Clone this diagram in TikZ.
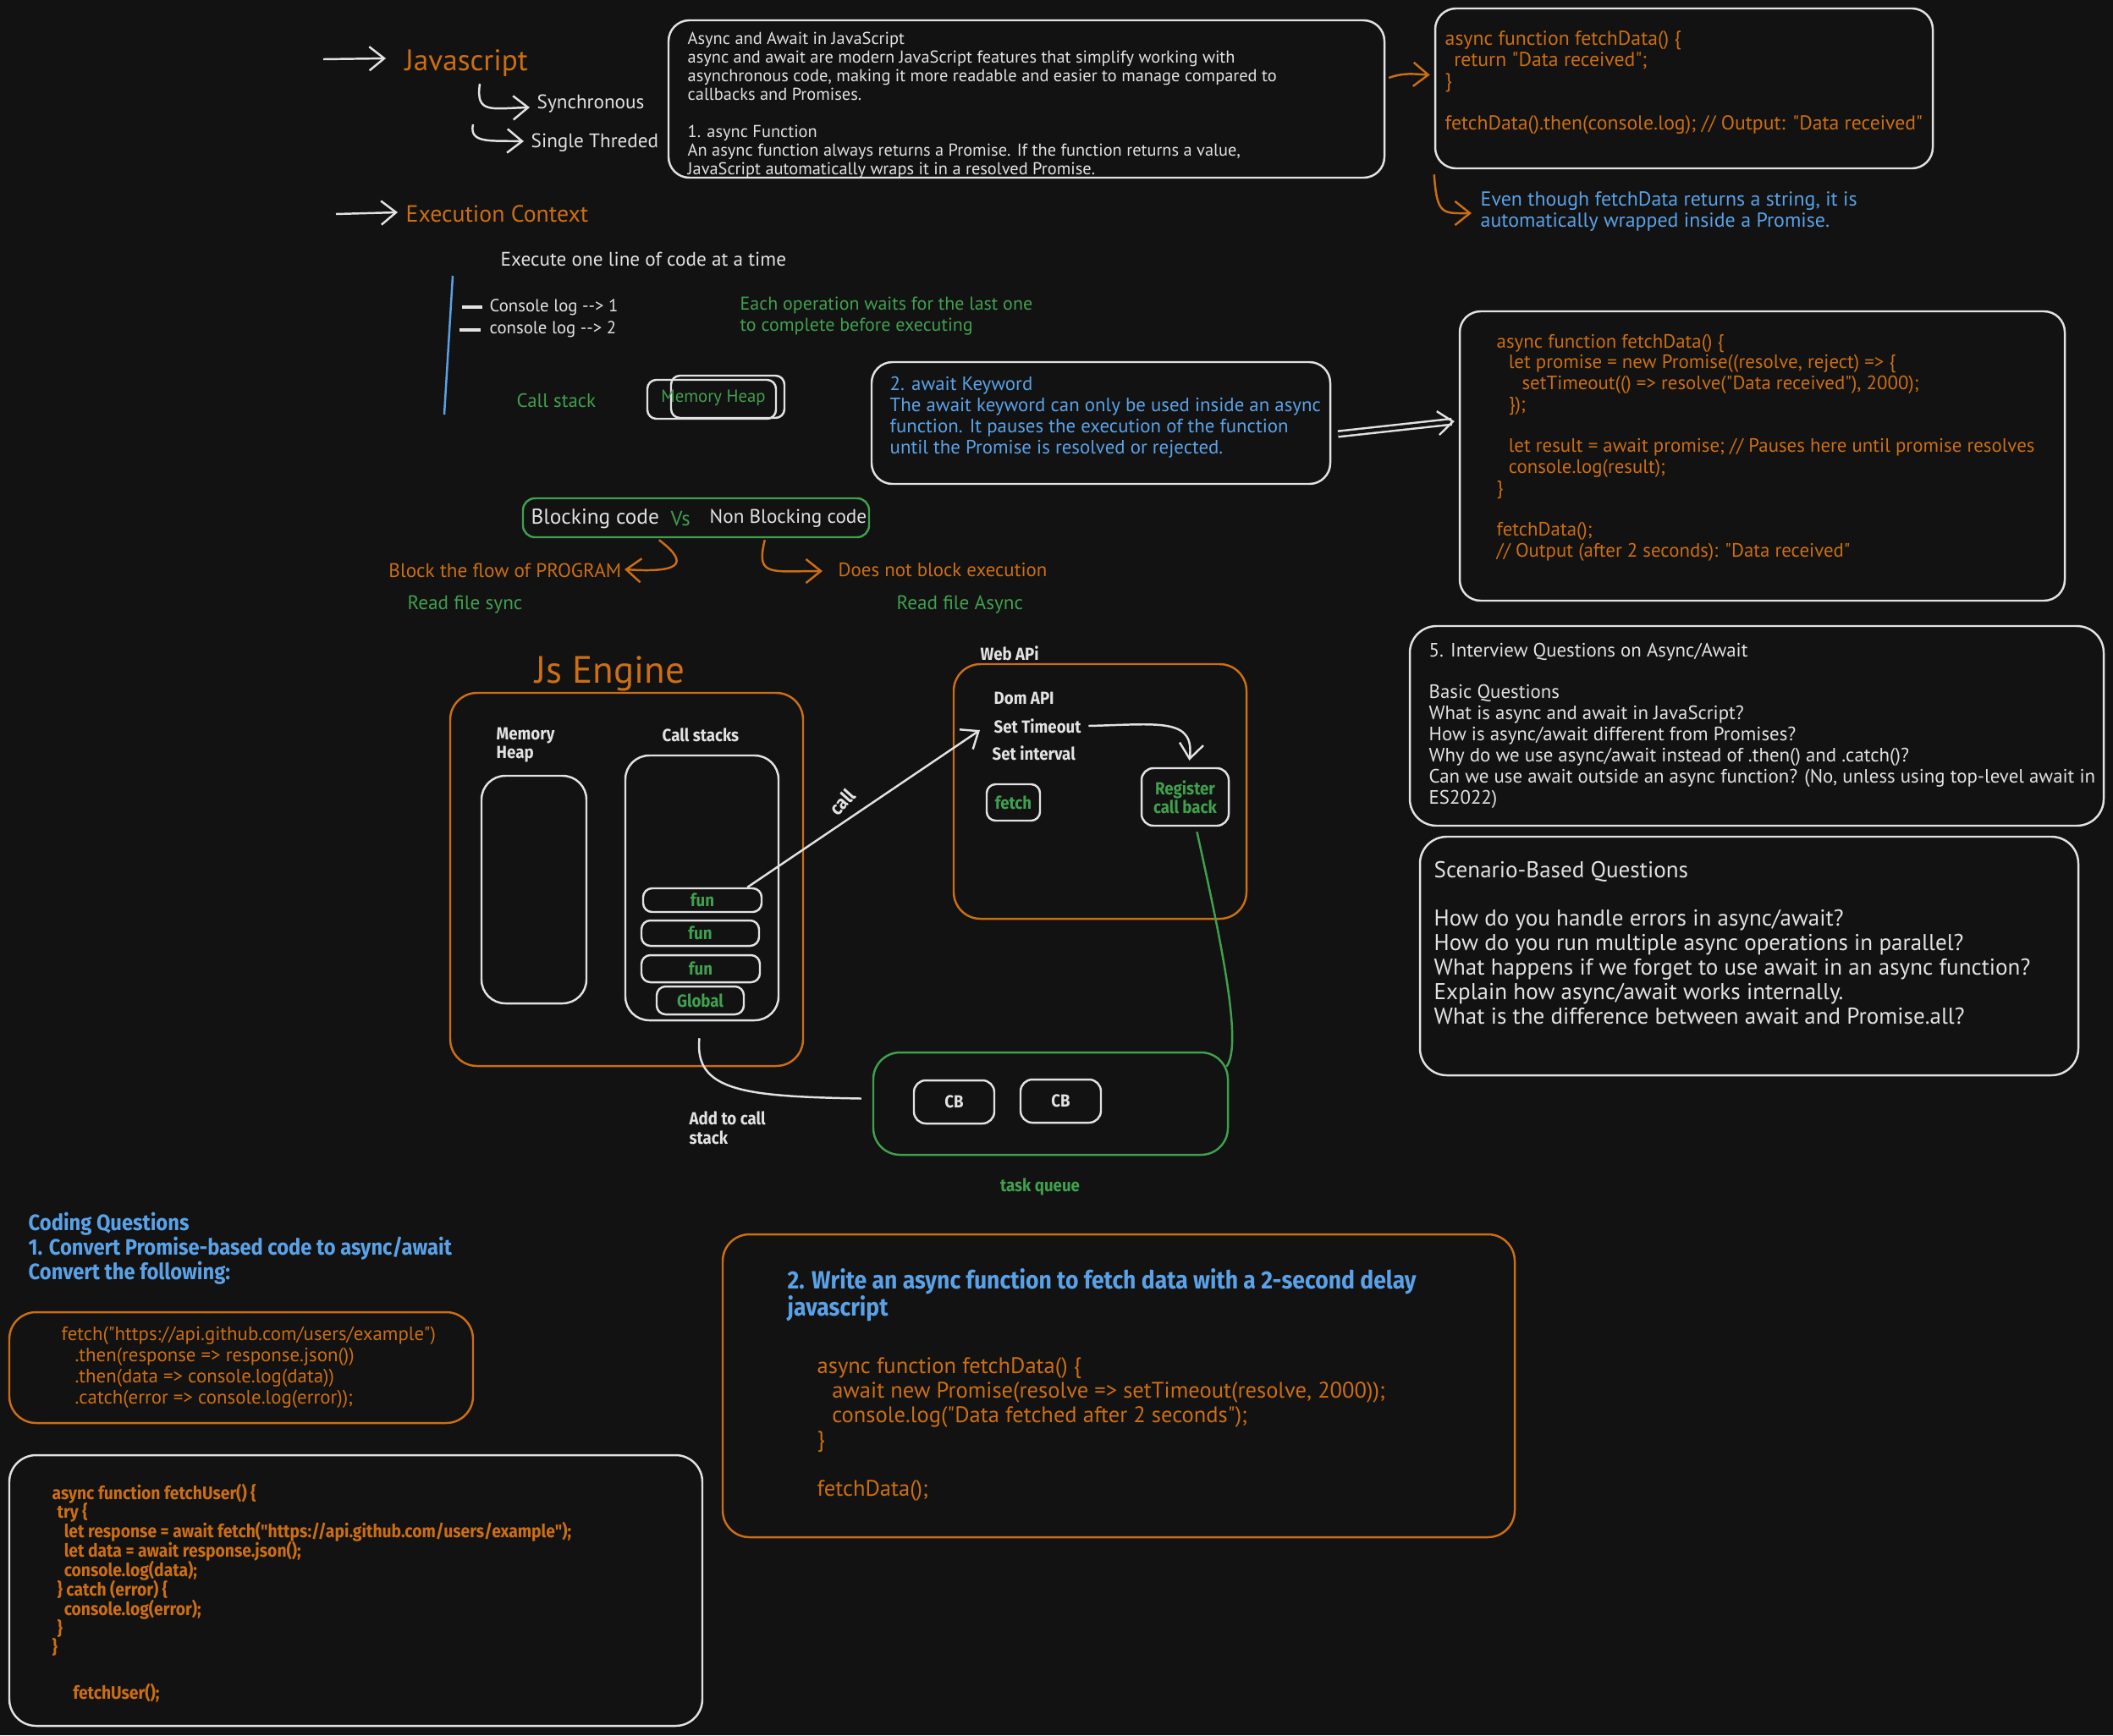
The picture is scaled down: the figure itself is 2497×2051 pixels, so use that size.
\documentclass[tikz,border=0pt]{standalone}
\usepackage{fontspec}
\usetikzlibrary{arrows.meta,fit,calc}
\setmainfont{PT Sans}
\newfontfamily\hand{PT Sans}
\newfontfamily\bld[FakeStretch=0.9]{Fira Sans}
\newcommand\hf[2]{\hand\fontsize{#1}{#2}\selectfont}
\newcommand\bfn[2]{\bld\bfseries\fontsize{#1}{#2}\selectfont}
\newcommand\ml[1]{\parbox[t]{20cm}{\lineskiplimit=-20pt\raggedright #1}}
\definecolor{bg}{HTML}{121212}
\definecolor{wht}{HTML}{E2E2E2}
\definecolor{org}{HTML}{CC6E14}
\definecolor{grn}{HTML}{40A04E}
\definecolor{blu}{HTML}{5AA2E8}
\tikzset{
  tx/.style={inner sep=0pt, anchor=base west},
  wbox/.style={draw=wht, line width=0.7pt, rounded corners=7pt, inner sep=0pt},
  obox/.style={draw=org, line width=0.7pt, rounded corners=7pt, inner sep=0pt},
  gbox/.style={draw=grn, line width=0.7pt, rounded corners=7pt, inner sep=0pt},
  sbox/.style={draw=wht, line width=0.7pt, rounded corners=3pt, inner sep=0pt},
  warr/.style={draw=wht, line width=0.7pt, -{Straight Barb[length=5pt,width=8pt]}},
  oarr/.style={draw=org, line width=0.7pt, -{Straight Barb[length=5pt,width=8pt]}},
}
\begin{document}
\begin{tikzpicture}[x=0.01cm,y=-0.01cm]
\useasboundingbox (0,0) rectangle (2497,2051);
\fill[bg] (0,0) rectangle (2497,2051);

% ---------- Javascript ----------
\coordinate (jsa) at (382,70);
\node[tx, anchor=west, text=org, font=\hf{10}{12}] (js) at (478,75) {Javascript};
\draw[warr] (jsa) -- ($(js.west)+(-22,-6)$);
\node[tx, anchor=west, text=wht, font=\hf{6.6}{8}] (sync) at (634,123) {Synchronous};
\node[tx, anchor=west, text=wht, font=\hf{6.6}{8}] (single) at (627,169) {Single Threded};
\coordinate (sa) at (567,99);
\coordinate (sb) at (559,147);
\draw[warr] (sa) .. controls (562,135) and (580,128) .. ($(sync.west)+(-8,4)$);
\draw[warr] (sb) .. controls (554,170) and (580,166) .. ($(single.west)+(-8,-2)$);

% ---------- top box ----------
\node[wbox, fit={(790,24) (1636,210)}] (b1) {};
\node[tx, text=wht, font=\hf{5.8}{6.26}] at (812,52) {\ml{Async and Await in JavaScript\\
async and await are modern JavaScript features that simplify working with\\
asynchronous code, making it more readable and easier to manage compared to\\
callbacks and Promises.\\[6.26pt]
1. async Function\\
An async function always returns a Promise. If the function returns a value,\\
JavaScript automatically wraps it in a resolved Promise.}};

\node[wbox, fit={(1696,10) (2284,199)}] (b2) {};
\node[tx, text=org, font=\hf{6.75}{7.11}] at (1707,53) {\ml{async function fetchData() \{\\
\hspace*{3pt}return "Data received";\\
\}\\[7.11pt]
fetchData().then(console.log); // Output: "Data received"}};
\draw[oarr] ($(b1.east)+(4,-25)$) .. controls (1660,85) and (1675,88) .. ($(b2.west)+(-5,-16)$);

\node[tx, text=blu, font=\hf{6.8}{7.11}] (note) at (1749,243) {\ml{Even though fetchData returns a string, it is\\automatically wrapped inside a Promise.}};
\draw[oarr] ($(b2.south west)+(0,6)$) .. controls (1698,255) and (1705,252) .. (1739,252);

% ---------- Execution context ----------
\coordinate (eca) at (397,253);
\node[tx, anchor=west, text=org, font=\hf{7.9}{9}] (ec) at (479,253) {Execution Context};
\draw[warr] (eca) -- ($(ec.west)+(-9,-2)$);
\node[tx, anchor=west, text=wht, font=\hf{6.6}{7}] (once) at (591,306) {Execute one line of code at a time};
\draw[blu, line width=0.7pt] (535,326) -- (525,490);
\draw[wht, line width=1pt] (546,363) -- (570,363);
\draw[wht, line width=1pt] (543,390) -- (568,390);
\node[tx, anchor=west, text=wht, font=\hf{5.9}{7}] (c1) at (578,363) {Console log -\kern0pt-> 1};
\node[tx, anchor=west, text=wht, font=\hf{5.9}{7}] (c2) at (578,389) {console log -\kern0pt-> 2};
\node[tx, text=grn, font=\hf{6.25}{7.11}] (each) at (874,366) {\ml{Each operation waits for the last one\\to complete before executing}};
\node[tx, anchor=west, text=grn, font=\hf{6.5}{7}] (cst) at (610,473) {Call stack};
\draw[sbox] (765,449) rectangle (917,495);
\draw[sbox] (793,444) rectangle (927,494);
\node[inner sep=0pt, text=grn, font=\hf{5.9}{7}] (mh) at (843,470) {Memory Heap};

% ---------- await keyword ----------
\node[wbox, fit={(1030,428) (1572,572)}] (b4) {};
\node[tx, text=blu, font=\hf{6.5}{7.2}] at (1051,461) {\ml{2. await Keyword\\
The await keyword can only be used inside an async\\
function. It pauses the execution of the function\\
until the Promise is resolved or rejected.}};
\node[wbox, fit={(1725,368) (2440,710)}] (b3) {};
\node[tx, text=org, font=\hf{6.5}{7.03}] at (1768,411) {\ml{async function fetchData() \{\\
\hspace*{4pt}let promise = new Promise((resolve, reject) => \{\\
\hspace*{8.5pt}setTimeout(() => resolve("Data received"), 2000);\\
\hspace*{4pt}\});\\[7.03pt]
\hspace*{4pt}let result = await promise; // Pauses here until promise resolves\\
\hspace*{4pt}console.log(result);\\
\}\\[7.03pt]
fetchData();\\
// Output (after 2 seconds): "Data received"}};
\draw[wht, line width=0.7pt, double=bg, double distance=1.2pt, -{Straight Barb[length=5pt,width=8pt]}] ($(b4.east)+(8,13)$) -- ($(b3.west)+(-5,-41)$);

% ---------- blocking ----------
\node[gbox, rounded corners=4pt, fit={(618,589) (1027,635)}] (bvn) {};
\node[tx, anchor=west, text=wht, font=\hf{7.2}{8}] at (627,613) {Blocking code};
\node[tx, anchor=west, text=grn, font=\hf{7.0}{8}] at (792,613) {Vs};
\node[tx, anchor=west, text=wht, font=\hf{6.6}{8}] at (838,613) {Non Blocking code};
\node[tx, anchor=east, text=org, font=\hf{6.6}{7}] (block) at (735,674) {Block the flow of PROGRAM};
\node[tx, anchor=west, text=org, font=\hf{6.5}{7}] (nblock) at (990,674) {Does not block execution};
\draw[oarr] ($(bvn.south west)+(162,2)$) .. controls (818,668) and (800,677) .. ($(block.east)+(3,-1)$);
\draw[oarr] ($(bvn.south west)+(287,2)$) .. controls (893,682) and (910,675) .. ($(nblock.west)+(-18,1)$);
\node[tx, anchor=west, text=grn, font=\hf{6.6}{7}] at (481,715) {Read file sync};
\node[tx, anchor=west, text=grn, font=\hf{6.6}{7}] at (1059,715) {Read file Async};

% ---------- JS engine ----------
\node[tx, anchor=west, text=org, font=\hf{12.8}{14}] (jse) at (632,796) {Js Engine};
\node[obox, rounded corners=9pt, fit={(532,819) (949,1260)}] (E) {};
\node[tx, text=wht, font=\bfn{5.9}{6.26}] at (586,874) {\ml{Memory\\Heap}};
\node[wbox, rounded corners=8pt, fit={(569,917) (693,1186)}] (MH) {};
\node[tx, anchor=west, text=wht, font=\bfn{5.9}{6.26}] at (782,869) {Call stacks};
\node[wbox, rounded corners=8pt, fit={(739,893) (920,1206)}] (CS) {};
\node[sbox, fit={(760,1050) (900,1078)}] (f1) {};
\node[sbox, fit={(758,1088) (897,1118)}] (f2) {};
\node[sbox, fit={(758,1129) (898,1161)}] (f3) {};
\node[sbox, fit={(776,1166) (879,1199)}] (gl) {};
\node[text=grn, inner sep=0pt, font=\bfn{5.9}{6}] at (f1.center) {fun};
\node[text=grn, inner sep=0pt, font=\bfn{5.9}{6}] at (f2.center) {fun};
\node[text=grn, inner sep=0pt, font=\bfn{5.9}{6}] at (f3.center) {fun};
\node[text=grn, inner sep=0pt, font=\bfn{5.9}{6}] at (gl.center) {Global};

% ---------- Web API ----------
\node[tx, anchor=west, text=wht, font=\bfn{5.9}{6.26}] at (1158,772) {Web APi};
\node[obox, rounded corners=9pt, fit={(1127,785) (1473,1086)}] (W) {};
\node[tx, anchor=west, text=wht, font=\bfn{5.9}{6.26}] at (1174,825) {Dom API};
\node[tx, anchor=west, text=wht, font=\bfn{5.9}{6.26}] (st) at (1174,858) {Set Timeout};
\node[tx, anchor=west, text=wht, font=\bfn{5.9}{6.26}] at (1172,890) {Set interval};
\node[sbox, fit={(1166,927) (1229,970)}] (fe) {};
\node[text=grn, inner sep=0pt, font=\bfn{5.9}{6}] at (fe.center) {fetch};
\node[sbox, rounded corners=4pt, fit={(1349,908) (1452,976)}] (reg) {};
\node[text=grn, inner sep=0pt, align=center, font=\bfn{5.9}{6.26}] at (reg.center) {Register\\call back};
\draw[warr] ($(f1.north east)+(-18,0)$) -- ($(st.west)+(-16,5)$);
\node[text=wht, inner sep=0pt, rotate=48, font=\bfn{6.4}{7}] at (995,948) {call};
\draw[warr] ($(st.east)+(8,0)$) .. controls (1370,856) and (1412,848) .. ($(reg.north)+(5,-8)$);

% ---------- task queue ----------
\node[gbox, rounded corners=9pt, fit={(1032,1244) (1451,1365)}] (TQ) {};
\node[sbox, rounded corners=4pt, fit={(1080,1277) (1175,1328)}] (cb1) {};
\node[sbox, rounded corners=4pt, fit={(1206,1276) (1301,1327)}] (cb2) {};
\node[text=wht, inner sep=0pt, font=\bfn{5.9}{6}] at (cb1.center) {CB};
\node[text=wht, inner sep=0pt, font=\bfn{5.9}{6}] at (cb2.center) {CB};
\node[text=grn, inner sep=0pt, font=\bfn{5.9}{6}] at (1229,1403) {task queue};
\draw[grn, line width=0.7pt] ($(reg.south)+(14,6)$) .. controls (1440,1100) and (1470,1235) .. ($(TQ.north east)+(-3,18)$);
\draw[wht, line width=0.7pt] ($(TQ.west)+(-13,-6)$) .. controls (880,1296) and (820,1290) .. ($(CS.south)+(-3,20)$);
\node[tx, text=wht, font=\bfn{5.9}{6.8}] at (814,1329) {\ml{Add to call\\stack}};

% ---------- interview ----------
\node[wbox, rounded corners=9pt, fit={(1666,740) (2486,976)}] (IQ) {};
\node[tx, text=wht, font=\hf{6.5}{7.1}] at (1688,776) {\ml{5. Interview Questions on Async/Await\\[7.1pt]
Basic Questions\\
What is async and await in JavaScript?\\
How is async/await different from Promises?\\
Why do we use async/await instead of .then() and .catch()?\\
Can we use await outside an async function? (No, unless using top-level await in\\
ES2022)}};
\node[wbox, rounded corners=9pt, fit={(1678,989) (2456,1271)}] (SQ) {};
\node[tx, text=wht, font=\hf{7.7}{8.2}] at (1694,1037) {\ml{Scenario-Based Questions\\[8.2pt]
How do you handle errors in async/await?\\
How do you run multiple async operations in parallel?\\
What happens if we forget to use await in an async function?\\
Explain how async/await works internally.\\
What is the difference between await and Promise.all?}};

% ---------- coding questions ----------
\node[tx, text=blu, font=\bfn{7.5}{8.25}] at (33,1454) {\ml{Coding Questions\\
1. Convert Promise-based code to async/await\\
Convert the following:}};
\node[obox, rounded corners=9pt, fit={(11,1551) (559,1682)}] (F) {};
\node[tx, text=org, font=\hf{6.5}{7.15}] at (72,1584) {\ml{fetch("https://api.github.com/users/example")\\
\hspace*{4.5pt}.then(response => response.json())\\
\hspace*{4.5pt}.then(data => console.log(data))\\
\hspace*{4.5pt}.catch(error => console.log(error));}};
\node[wbox, rounded corners=9pt, fit={(11,1720) (830,2040)}] (U) {};
\node[tx, text=org, font=\bfn{6.1}{6.5}] at (61,1772) {\ml{async function fetchUser() \{\\
\hspace*{1.7pt}try \{\\
\hspace*{4pt}let response = await fetch("https://api.github.com/users/example");\\
\hspace*{4pt}let data = await response.json();\\
\hspace*{4pt}console.log(data);\\
\hspace*{1.7pt}\} catch (error) \{\\
\hspace*{4pt}console.log(error);\\
\hspace*{1.7pt}\}\\
\}\\[8.8pt]
\hspace*{7pt}fetchUser();}};
\node[obox, rounded corners=9pt, fit={(854,1459) (1790,1817)}] (Q2) {};
\node[tx, text=blu, font=\bfn{8.4}{9.1}] at (930,1523) {\ml{2. Write an async function to fetch data with a 2-second delay\\javascript}};
\node[tx, text=org, font=\hf{7.55}{8.25}] at (965,1623) {\ml{async function fetchData() \{\\
\hspace*{5pt}await new Promise(resolve => setTimeout(resolve, 2000));\\
\hspace*{5pt}console.log("Data fetched after 2 seconds");\\
\}\\[8.25pt]
fetchData();}};
\end{tikzpicture}
\end{document}
